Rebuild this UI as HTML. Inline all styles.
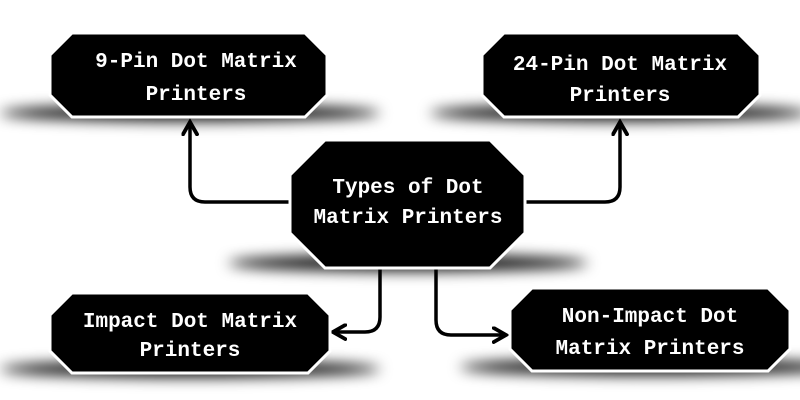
<!DOCTYPE html>
<html><head><style>body{margin:0;background:#fff}svg{display:block}</style></head><body>
<svg width="800" height="400" viewBox="0 0 800 400" xmlns="http://www.w3.org/2000/svg">
<defs>
<filter id="b" x="-50%" y="-300%" width="200%" height="700%"><feGaussianBlur stdDeviation="7"/></filter>
<marker id="a" viewBox="0 0 10 10" refX="8" refY="5" markerWidth="5" markerHeight="5" orient="auto"><path d="M1,1 L8,5 L1,9" fill="none" stroke="#000" stroke-width="2.2" stroke-linecap="round"/></marker>
</defs>
<g fill="#000" filter="url(#b)">
<ellipse cx="190" cy="113" rx="190" ry="8"/>
<ellipse cx="620" cy="113" rx="190" ry="8"/>
<ellipse cx="408" cy="263" rx="180" ry="8"/>
<ellipse cx="190" cy="369" rx="190" ry="8"/>
<ellipse cx="650" cy="367" rx="190" ry="8"/>
</g>
<g fill="none" stroke="#000" stroke-width="3.5">
<path d="M290,202 H205 Q190,202 190,187 V122" marker-end="url(#a)"/>
<path d="M525,202 H605 Q620,202 620,187 V122" marker-end="url(#a)"/>
<path d="M380,268 V317 Q380,332 365,332 H333" marker-end="url(#a)"/>
<path d="M436,268 V320 Q436,335 451,335 H506" marker-end="url(#a)"/>
</g>
<g fill="#000" stroke="#fff" stroke-width="3">
<polygon points="72,33 305,33 327,55 327,95 305,117 72,117 50,95 50,55"/>
<polygon points="504,33 738,33 760,55 760,95 738,117 504,117 482,95 482,55"/>
<polygon points="325,140 490,140 525,175 525,233 490,268 325,268 290,233 290,175"/>
<polygon points="72,293 308,293 330,315 330,351 308,373 72,373 50,351 50,315"/>
<polygon points="532,288 768,288 790,310 790,349 768,371 532,371 510,349 510,310"/>
</g>
<g fill="#fff" font-family="Liberation Mono, monospace" font-weight="bold" font-size="21" text-anchor="middle">
<text x="196" y="67">9-Pin Dot Matrix</text><text x="196" y="100">Printers</text>
<text x="620" y="70">24-Pin Dot Matrix</text><text x="620" y="101">Printers</text>
<text x="408" y="193">Types of Dot</text><text x="408" y="223">Matrix Printers</text>
<text x="190" y="327">Impact Dot Matrix</text><text x="190" y="356">Printers</text>
<text x="650" y="322">Non-Impact Dot</text><text x="650" y="354">Matrix Printers</text>
</g>
</svg>
</body></html>
